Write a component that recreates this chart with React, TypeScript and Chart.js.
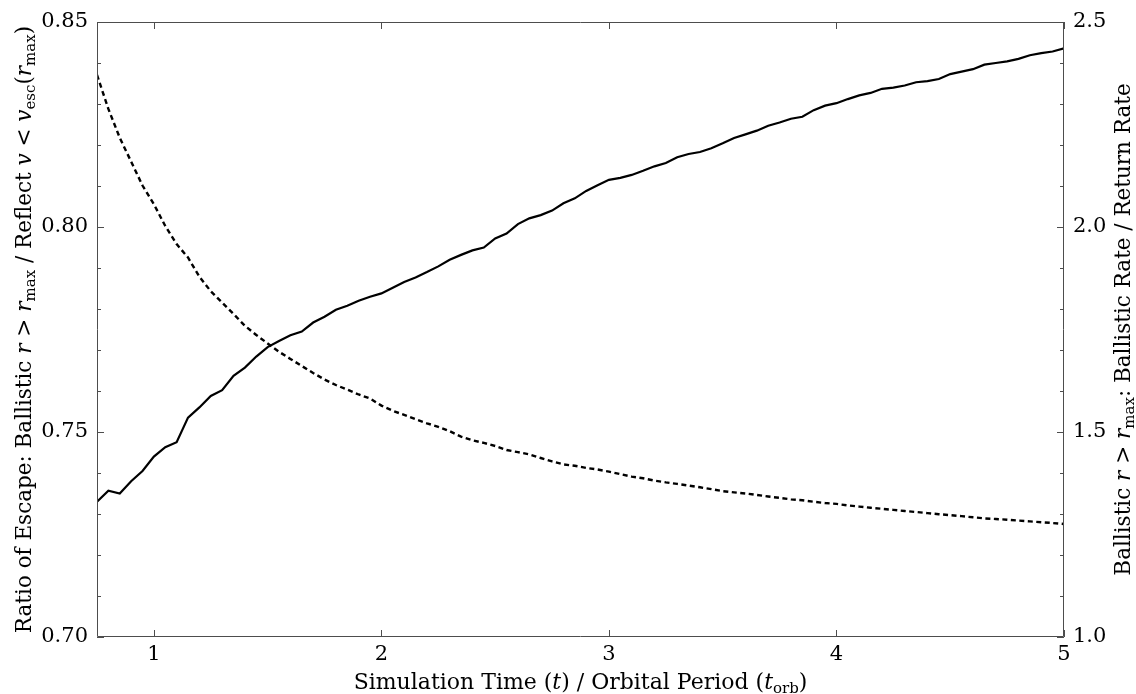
import React, { useEffect, useRef } from "react";
import { Chart, registerables } from "chart.js";

Chart.register(...registerables);

// Simulation time in orbital periods
const TIME = [
  0.75, 0.8, 0.85, 0.9, 0.95, 1.0, 1.05, 1.1, 1.15, 1.2, 1.25, 1.3, 1.35, 1.4, 1.45,
  1.5, 1.55, 1.6, 1.65, 1.7, 1.75, 1.8, 1.85, 1.9, 1.95, 2.0, 2.05, 2.1, 2.15, 2.2,
  2.25, 2.3, 2.35, 2.4, 2.45, 2.5, 2.55, 2.6, 2.65, 2.7, 2.75, 2.8, 2.85, 2.9, 2.95,
  3.0, 3.05, 3.1, 3.15, 3.2, 3.25, 3.3, 3.35, 3.4, 3.45, 3.5, 3.55, 3.6, 3.65, 3.7,
  3.75, 3.8, 3.85, 3.9, 3.95, 4.0, 4.05, 4.1, 4.15, 4.2, 4.25, 4.3, 4.35, 4.4, 4.45,
  4.5, 4.55, 4.6, 4.65, 4.7, 4.75, 4.8, 4.85, 4.9, 4.95, 5.0,
];

// Ratio of escape (left axis, solid)
const ESCAPE_RATIO = [
  0.733, 0.7357, 0.735, 0.738, 0.7405, 0.744, 0.7463, 0.7475, 0.7535, 0.756, 0.7588,
  0.7602, 0.7637, 0.7657, 0.7684, 0.7707, 0.7722, 0.7736, 0.7745, 0.7767, 0.7781,
  0.7798, 0.7808, 0.782, 0.783, 0.7838, 0.7852, 0.7866, 0.7877, 0.789, 0.7904, 0.792,
  0.7932, 0.7943, 0.795, 0.7972, 0.7984, 0.8007, 0.8021, 0.8029, 0.804, 0.8058, 0.807,
  0.8088, 0.8102, 0.8115, 0.812, 0.8127, 0.8137, 0.8148, 0.8156, 0.817, 0.8178, 0.8183,
  0.8192, 0.8204, 0.8217, 0.8226, 0.8235, 0.8247, 0.8255, 0.8264, 0.8269, 0.8285,
  0.8296, 0.8302, 0.8312, 0.8321, 0.8327, 0.8337, 0.834, 0.8345, 0.8353, 0.8356,
  0.8361, 0.8373, 0.8379, 0.8385, 0.8396, 0.84, 0.8404, 0.841, 0.8419, 0.8424, 0.8428,
  0.8436,
];

// Ballistic rate / return rate (right axis, dashed)
const RATE_RATIO = [
  2.371, 2.288, 2.2176, 2.1595, 2.1012, 2.0556, 2.0025, 1.9583, 1.9256, 1.8788, 1.8434,
  1.8156, 1.7878, 1.759, 1.7366, 1.716, 1.6956, 1.6783, 1.661, 1.6439, 1.628, 1.6146,
  1.6034, 1.5915, 1.5817, 1.5644, 1.5517, 1.5417, 1.5312, 1.5212, 1.5127, 1.502,
  1.4886, 1.4798, 1.4734, 1.4659, 1.4561, 1.4508, 1.4454, 1.4366, 1.4283, 1.421,
  1.4176, 1.4125, 1.4085, 1.4034, 1.3973, 1.3912, 1.3871, 1.3815, 1.3771, 1.3734,
  1.3695, 1.3651, 1.3607, 1.3557, 1.3527, 1.35, 1.3464, 1.3427, 1.3393, 1.3358, 1.3334,
  1.3298, 1.3268, 1.3246, 1.321, 1.318, 1.3151, 1.3127, 1.31, 1.3073, 1.3049, 1.3022,
  1.2995, 1.2971, 1.2947, 1.292, 1.2893, 1.2878, 1.2861, 1.2839, 1.282, 1.28, 1.278,
  1.2756,
];

const X_TICKS = [1, 2, 3, 4, 5];
const LEFT_TICKS = [0.7, 0.75, 0.8, 0.85];
const LEFT_MINOR = [
  0.71, 0.72, 0.73, 0.74, 0.76, 0.77, 0.78, 0.79, 0.81, 0.82, 0.83, 0.84,
];
const RIGHT_TICKS = [1.0, 1.5, 2.0, 2.5];
const RIGHT_MINOR = [1.1, 1.2, 1.3, 1.4, 1.6, 1.7, 1.8, 1.9, 2.1, 2.2, 2.3, 2.4];

type Seg = { t: string; s: "n" | "i" | "s" };

const X_TITLE: Seg[] = [
  { t: "Simulation Time (", s: "n" },
  { t: "t", s: "i" },
  { t: ") / Orbital Period (", s: "n" },
  { t: "t", s: "i" },
  { t: "orb", s: "s" },
  { t: ")", s: "n" },
];
const LEFT_TITLE: Seg[] = [
  { t: "Ratio of Escape: Ballistic ", s: "n" },
  { t: "r", s: "i" },
  { t: " > ", s: "n" },
  { t: "r", s: "i" },
  { t: "max", s: "s" },
  { t: " / Reflect ", s: "n" },
  { t: "v", s: "i" },
  { t: " < ", s: "n" },
  { t: "v", s: "i" },
  { t: "esc", s: "s" },
  { t: "(", s: "n" },
  { t: "r", s: "i" },
  { t: "max", s: "s" },
  { t: ")", s: "n" },
];
const RIGHT_TITLE: Seg[] = [
  { t: "Ballistic ", s: "n" },
  { t: "r", s: "i" },
  { t: " > ", s: "n" },
  { t: "r", s: "i" },
  { t: "max", s: "s" },
  { t: ": Ballistic Rate / Return Rate", s: "n" },
];

const FAMILY = '"DejaVu Serif", serif';

function fontFor(s: string, size: number) {
  if (s === "i") return `italic ${size}px ${FAMILY}`;
  if (s === "s") return `${Math.round(size * 0.7)}px ${FAMILY}`;
  return `${size}px ${FAMILY}`;
}

function drawRich(
  ctx: CanvasRenderingContext2D,
  segs: Seg[],
  cx: number,
  cy: number,
  rotate: boolean,
  size: number
) {
  ctx.save();
  let total = 0;
  const widths = segs.map((g) => {
    ctx.font = fontFor(g.s, size);
    const w = ctx.measureText(g.t).width;
    total += w;
    return w;
  });
  ctx.translate(cx, cy);
  if (rotate) ctx.rotate(-Math.PI / 2);
  ctx.fillStyle = "#000";
  ctx.textBaseline = "alphabetic";
  ctx.textAlign = "left";
  let x = -total / 2;
  segs.forEach((g, i) => {
    ctx.font = fontFor(g.s, size);
    ctx.fillText(g.t, x, g.s === "s" ? size * 0.2 : 0);
    x += widths[i];
  });
  ctx.restore();
}

const framePlugin = {
  id: "frame",
  afterDraw(chart: any) {
    const { ctx, chartArea } = chart;
    const { left, right, top, bottom } = chartArea;
    const xs = chart.scales.x;
    const ys = chart.scales.y;
    const y1 = chart.scales.y1;
    ctx.save();
    ctx.strokeStyle = "#4d4d4d";
    ctx.lineWidth = 1;
    ctx.beginPath();
    ctx.rect(left + 0.5, top + 0.5, right - left - 1, bottom - top - 1);
    ctx.stroke();
    const MAJ = 7;
    const MIN = 4;
    ctx.beginPath();
    X_TICKS.forEach((v) => {
      const px = Math.round(xs.getPixelForValue(v)) + 0.5;
      ctx.moveTo(px, bottom);
      ctx.lineTo(px, bottom - MAJ);
      ctx.moveTo(px, top);
      ctx.lineTo(px, top + MAJ);
    });
    LEFT_TICKS.forEach((v) => {
      const py = Math.round(ys.getPixelForValue(v)) + 0.5;
      ctx.moveTo(left, py);
      ctx.lineTo(left + MAJ, py);
    });
    LEFT_MINOR.forEach((v) => {
      const py = Math.round(ys.getPixelForValue(v)) + 0.5;
      ctx.moveTo(left, py);
      ctx.lineTo(left + MIN, py);
    });
    RIGHT_TICKS.forEach((v) => {
      const py = Math.round(y1.getPixelForValue(v)) + 0.5;
      ctx.moveTo(right, py);
      ctx.lineTo(right - MAJ, py);
    });
    RIGHT_MINOR.forEach((v) => {
      const py = Math.round(y1.getPixelForValue(v)) + 0.5;
      ctx.moveTo(right, py);
      ctx.lineTo(right - MIN, py);
    });
    ctx.stroke();
    ctx.restore();

    const midY = (top + bottom) / 2;
    drawRich(ctx, X_TITLE, (left + right) / 2, 689, false, 22);
    drawRich(ctx, LEFT_TITLE, 31, midY, true, 21.5);
    drawRich(ctx, RIGHT_TITLE, 1130, midY, true, 21.5);
  },
};

export default function App() {
  const ref = useRef<HTMLCanvasElement | null>(null);

  useEffect(() => {
    const canvas = ref.current;
    if (!canvas) return;
    Chart.defaults.font.family = FAMILY;
    const tickFont = { family: FAMILY, size: 21 };
    const noGrid = { display: false, drawTicks: false, tickLength: 0 };
    const chart = new Chart(canvas, {
      type: "line",
      data: {
        datasets: [
          {
            label: "Ratio of Escape",
            data: TIME.map((t, i) => ({ x: t, y: ESCAPE_RATIO[i] })),
            yAxisID: "y",
            borderColor: "#000",
            borderWidth: 2.2,
            pointRadius: 0,
            tension: 0,
            fill: false,
          },
          {
            label: "Ballistic Rate / Return Rate",
            data: TIME.map((t, i) => ({ x: t, y: RATE_RATIO[i] })),
            yAxisID: "y1",
            borderColor: "#000",
            borderWidth: 2.4,
            borderDash: [5, 3.5],
            pointRadius: 0,
            tension: 0,
            fill: false,
          },
        ],
      },
      options: {
        responsive: false,
        animation: false,
        devicePixelRatio: 1,
        layout: { padding: { top: 22, left: 0, right: 0, bottom: 0 } },
        plugins: {
          legend: { display: false },
          tooltip: { enabled: false },
        },
        scales: {
          x: {
            type: "linear",
            min: 0.75,
            max: 5,
            grid: noGrid,
            border: { display: false },
            afterBuildTicks: (s: any) => {
              s.ticks = X_TICKS.map((v) => ({ value: v }));
            },
            afterFit: (s: any) => {
              s.height = 57;
            },
            ticks: {
              font: tickFont,
              color: "#000",
              padding: 5,
              maxRotation: 0,
              autoSkip: false,
              callback: (v: any) => String(v),
            },
          },
          y: {
            type: "linear",
            position: "left",
            min: 0.7,
            max: 0.85,
            grid: noGrid,
            border: { display: false },
            afterBuildTicks: (s: any) => {
              s.ticks = LEFT_TICKS.map((v) => ({ value: v }));
            },
            afterFit: (s: any) => {
              s.width = 97;
            },
            ticks: {
              font: tickFont,
              color: "#000",
              padding: 9,
              autoSkip: false,
              callback: (v: any) => Number(v).toFixed(2),
            },
          },
          y1: {
            type: "linear",
            position: "right",
            min: 1.0,
            max: 2.5,
            grid: noGrid,
            border: { display: false },
            afterBuildTicks: (s: any) => {
              s.ticks = RIGHT_TICKS.map((v) => ({ value: v }));
            },
            afterFit: (s: any) => {
              s.width = 72;
            },
            ticks: {
              font: tickFont,
              color: "#000",
              padding: 9,
              autoSkip: false,
              callback: (v: any) => Number(v).toFixed(1),
            },
          },
        },
      },
      plugins: [framePlugin],
    });
    return () => chart.destroy();
  }, []);

  return (
    <div
      style={{
        position: "fixed",
        left: 0,
        top: 0,
        width: 1136,
        height: 694,
        background: "#fff",
      }}
    >
      <canvas ref={ref} width={1136} height={694} style={{ display: "block" }} />
    </div>
  );
}
